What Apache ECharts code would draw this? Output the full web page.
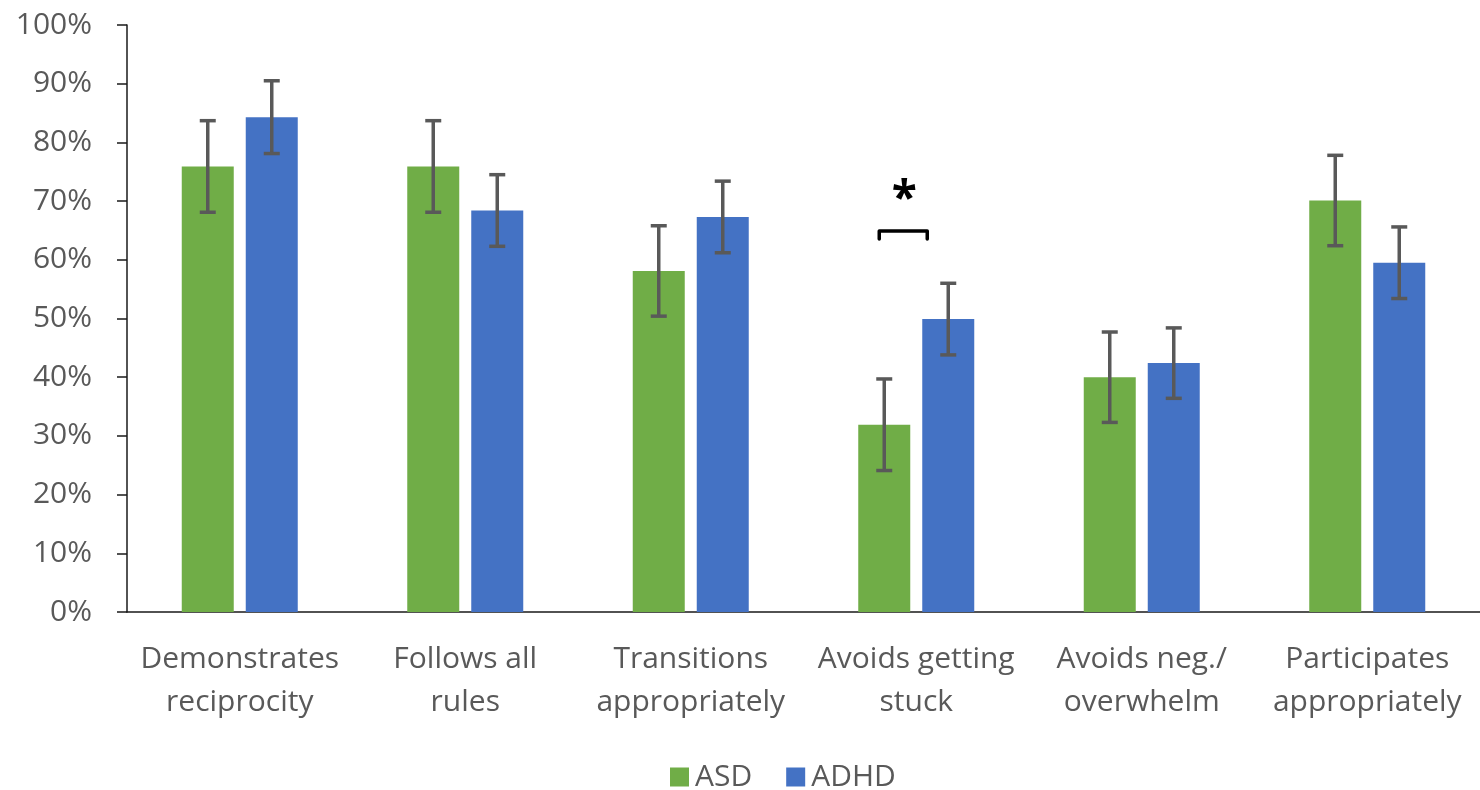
<!DOCTYPE html>
<html>
<head>
<meta charset="utf-8">
<script src="https://cdn.jsdelivr.net/npm/echarts@6/dist/echarts.min.js"></script>
<style>
  html, body { margin: 0; padding: 0; background: #fff; }
  #chart { width: 1480px; height: 790px; }
</style>
</head>
<body>
<div id="chart"></div>
<script>
const categories = [
  'Demonstrates\nreciprocity',
  'Follows all\nrules',
  'Transitions\nappropriately',
  'Avoids getting\nstuck',
  'Avoids neg./\noverwhelm',
  'Participates\nappropriately'
]
const asd = [75.9, 75.9, 58.1, 31.9, 40.0, 70.1]
const asdErr = [7.8, 7.8, 7.7, 7.8, 7.7, 7.7]
const adhd = [84.3, 68.4, 67.3, 49.9, 42.4, 59.5]
const adhdErr = [6.2, 6.1, 6.1, 6.1, 6.0, 6.1]
// significance marks: category index, bracket height (%)
const sigCategory = [3]
const sigLevel = [64.9]
const sigLabel = ['*']

const GREEN = '#70ad47'
const BLUE = '#4472c4'
const TEXT = '#595959'
const BAR_W = 52
const BAR_GAP = 12
const OFFSET = (BAR_W + BAR_GAP) / 2

function errorSeries(name, values, errs, dir) {
  return {
    type: 'custom',
    name: name + ' err',
    silent: true,
    z: 5,
    data: values.map((v, i) => [i, v - errs[i], v + errs[i]]),
    renderItem: (params, api) => {
      const lo = api.coord([api.value(0), api.value(1)])
      const hi = api.coord([api.value(0), api.value(2)])
      const x = lo[0] + dir * OFFSET
      const cap = 8
      const style = { stroke: '#595959', lineWidth: 3.5 }
      return {
        type: 'group',
        children: [
          { type: 'line', shape: { x1: x, y1: lo[1], x2: x, y2: hi[1] }, style },
          { type: 'line', shape: { x1: x - cap, y1: hi[1], x2: x + cap, y2: hi[1] }, style },
          { type: 'line', shape: { x1: x - cap, y1: lo[1], x2: x + cap, y2: lo[1] }, style }
        ]
      }
    }
  }
}

const chart = echarts.init(document.getElementById('chart'))
chart.setOption({
  animation: false,
  textStyle: { fontFamily: 'Open Sans' },
  grid: { left: 127, right: 0, top: 25, bottom: 178 },
  legend: {
    left: 665,
    top: 757,
    itemWidth: 19,
    itemHeight: 19,
    itemGap: 34,
    icon: 'rect',
    textStyle: { color: TEXT, fontSize: 30, padding: [0, 0, 0, 1] },
    data: ['ASD', 'ADHD']
  },
  xAxis: {
    type: 'category',
    data: categories,
    axisLine: { lineStyle: { color: '#1a1a1a', width: 1.5 } },
    axisTick: { length: 12, lineStyle: { color: '#1a1a1a', width: 1.5 } },
    axisLabel: { color: TEXT, fontSize: 30, lineHeight: 43, margin: 26, interval: 0 }
  },
  yAxis: {
    type: 'value',
    min: 0,
    max: 100,
    interval: 10,
    axisLine: { show: true, lineStyle: { color: '#1a1a1a', width: 1.5 } },
    axisTick: { show: true, length: 10, lineStyle: { color: '#1a1a1a', width: 1.5 } },
    splitLine: { show: false },
    axisLabel: { color: TEXT, fontSize: 30, margin: 35, formatter: '{value}%' }
  },
  series: [
    {
      type: 'bar', name: 'ASD', data: asd, barWidth: BAR_W,
      barGap: (BAR_GAP / BAR_W * 100) + '%',
      itemStyle: { color: GREEN }
    },
    {
      type: 'bar', name: 'ADHD', data: adhd, barWidth: BAR_W,
      itemStyle: { color: BLUE }
    },
    errorSeries('ASD', asd, asdErr, -1),
    errorSeries('ADHD', adhd, adhdErr, 1),
    {
      type: 'custom',
      name: 'sig',
      silent: true,
      z: 6,
      data: sigCategory.map((c, i) => [c, sigLevel[i]]),
      renderItem: (params, api) => {
        const p = api.coord([api.value(0), api.value(1)])
        const x1 = p[0] - 37, x2 = p[0] + 11
        const y = p[1]
        return {
          type: 'group',
          children: [
            {
              type: 'polyline',
              shape: { points: [[x1, y + 8], [x1, y], [x2, y], [x2, y + 8]] },
              style: { stroke: '#000', lineWidth: 3.5, fill: null, lineJoin: 'round', lineCap: 'round' }
            },
            {
              type: 'text',
              style: {
                x: p[0] - 12, y: y - 30,
                text: sigLabel[params.dataIndex],
                fill: '#000', fontSize: 46, fontWeight: 'bold', fontFamily: 'Open Sans',
                align: 'center', verticalAlign: 'middle'
              }
            }
          ]
        }
      }
    }
  ]
})
</script>
</body>
</html>
